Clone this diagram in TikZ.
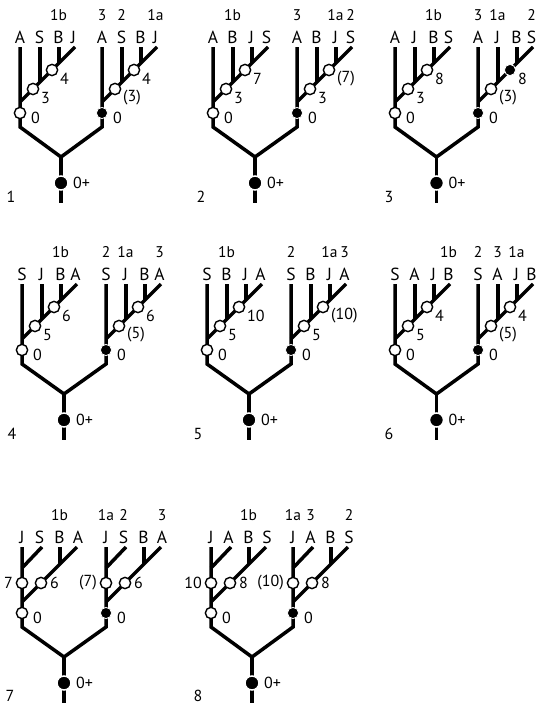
\documentclass[tikz,border=0pt]{standalone}
\usepackage{fontspec}
\setmainfont{PT Sans}
\tikzset{
 x=1pt,y=-1pt,
 br/.style={line width=3.5pt, line join=miter, line cap=butt},
 oc/.style={circle, draw=black, fill=white, line width=1.4pt, minimum size=11.3pt, inner sep=0pt},
 fc/.style={circle, fill=black, draw=white, line width=0.8pt, minimum size=11.2pt, inner sep=0pt},
 rc/.style={circle, fill=black, draw=white, line width=1.5pt, minimum size=14pt, inner sep=0pt},
 ltr/.style={font=\fontsize{17.5}{19}\selectfont, anchor=base, inner sep=0pt},
 tag/.style={font=\fontsize{15.5}{17}\selectfont, anchor=base, inner sep=0pt},
 num/.style={font=\fontsize{16}{18}\selectfont, inner sep=0pt},
}
% subtree type A: one vertical, one long diagonal with two verticals on it
\newcommand\skelA[3]{%
 \coordinate (#1-t1) at (#2,#3);
 \coordinate (#1-t2) at (#2+20,#3);
 \coordinate (#1-t3) at (#2+39,#3);
 \coordinate (#1-t4) at (#2+55,#3);
 \coordinate (#1-d) at (#2,#3+55);
 \coordinate (#1-j2) at (#2+20,#3+35);
 \coordinate (#1-j3) at (#2+39,#3+16);
 \coordinate (#1-s) at (#2,#3+80);
 \coordinate (#1-z) at (#2,#3+66);
 \coordinate (#1-c1) at (#2+13,#3+42);
 \coordinate (#1-c2) at (#2+32,#3+23);
 \coordinate (#1-l1) at (#2,#3-4);
 \coordinate (#1-l2) at (#2+19.5,#3-4);
 \coordinate (#1-l3) at (#2+38.5,#3-4);
 \coordinate (#1-l4) at (#2+53.5,#3-4);
 \coordinate (#1-u1) at (#2,#3-27);
 \coordinate (#1-u2) at (#2+19.5,#3-27);
 \coordinate (#1-u3) at (#2+38.5,#3-27);
 \coordinate (#1-u4) at (#2+53.5,#3-27);
 \draw[br] (#1-d) -- (#1-t4);
 \draw[br] (#1-t2) -- (#1-j2);
 \draw[br] (#1-t3) -- (#1-j3);
}
% subtree type B: short diagonal off the first vertical, long diagonal with one vertical
\newcommand\skelB[3]{%
 \coordinate (#1-t1) at (#2,#3);
 \coordinate (#1-t2) at (#2+20,#3);
 \coordinate (#1-t3) at (#2+38,#3);
 \coordinate (#1-t4) at (#2+55,#3);
 \coordinate (#1-ds) at (#2,#3+21);
 \coordinate (#1-d) at (#2,#3+55);
 \coordinate (#1-j3) at (#2+38,#3+17);
 \coordinate (#1-s) at (#2,#3+80);
 \coordinate (#1-z) at (#2,#3+66);
 \coordinate (#1-c1) at (#2,#3+36);
 \coordinate (#1-c2) at (#2+19,#3+36);
 \coordinate (#1-l1) at (#2,#3-4);
 \coordinate (#1-l2) at (#2+17.5,#3-4);
 \coordinate (#1-l3) at (#2+37.5,#3-4);
 \coordinate (#1-l4) at (#2+56,#3-4);
 \coordinate (#1-u1) at (#2,#3-27);
 \coordinate (#1-u2) at (#2+17.5,#3-27);
 \coordinate (#1-u3) at (#2+37.5,#3-27);
 \coordinate (#1-u4) at (#2+56,#3-27);
 \draw[br] (#1-ds) -- (#1-t2);
 \draw[br] (#1-d) -- (#1-t4);
 \draw[br] (#1-t3) -- (#1-j3);
}
\newcommand\lets[9]{%
 \node[ltr] (#1-L1) at (#1-l1) {#2};
 \node[tag] (#1-T1) at (#1-u1) {#3};
 \node[ltr] (#1-L2) at (#1-l2) {#4};
 \node[tag] (#1-T2) at (#1-u2) {#5};
 \node[ltr] (#1-L3) at (#1-l3) {#6};
 \node[tag] (#1-T3) at (#1-u3) {#7};
 \node[ltr] (#1-L4) at (#1-l4) {#8};
 \node[tag] (#1-T4) at (#1-u4) {#9};
}
% fork: name, left subtree, right subtree, root x, top y
\newcommand\fork[5]{%
 \coordinate (#1-j) at (#4,#5+110);
 \coordinate (#1-e) at (#4,#5+156);
 \coordinate (#1-r) at (#4,#5+136);
 \draw[br] (#2-t1) -- (#2-s) -- (#1-j) -- (#3-s) -- (#3-t1);
 \draw[br] (#1-j) -- (#1-e);
 \node[rc] (#1-rc) at (#1-r) {};
 \node[num, anchor=west, xshift=12pt] (#1-zp) at (#1-rc) {0+};
}
% circles: name, coordinate, style, label
\newcommand\cZ[4]{\node[#3] (#1) at (#2) {};
 \node[num, anchor=west, xshift=11pt, yshift=-5pt] (#1-lab) at (#1) {#4};}
\newcommand\cA[4]{\node[#3] (#1) at (#2) {};
 \node[num, anchor=west, xshift=8pt, yshift=-9pt] (#1-lab) at (#1) {#4};}
\newcommand\cLft[4]{\node[#3] (#1) at (#2) {};
 \node[num, anchor=east, xshift=-9pt] (#1-lab) at (#1) {#4};}
\newcommand\cRgt[4]{\node[#3] (#1) at (#2) {};
 \node[num, anchor=west, xshift=9pt] (#1-lab) at (#1) {#4};}
\begin{document}
\begin{tikzpicture}
\path[fill=white, use as bounding box] (0,0) rectangle (537,704);
% ---------- row 1 ----------
% panel 1
\skelA{p1l}{20}{47}\skelA{p1r}{102}{47}\fork{p1}{p1l}{p1r}{61}{47}
\lets{p1l}{A}{}{S}{}{B}{1b}{J}{}
\lets{p1r}{A}{3}{S}{2}{B}{}{J}{1a}
\cZ{p1l-zc}{p1l-z}{oc}{0}\cA{p1l-k1}{p1l-c1}{oc}{3}\cA{p1l-k2}{p1l-c2}{oc}{4}
\cZ{p1r-zc}{p1r-z}{fc}{0}\cA{p1r-k1}{p1r-c1}{oc}{(3)}\cA{p1r-k2}{p1r-c2}{oc}{4}
\node[num, anchor=base] (p1-n) at (11,202) {1};
% panel 2
\skelA{p2l}{213}{47}\skelA{p2r}{297}{47}\fork{p2}{p2l}{p2r}{255}{47}
\lets{p2l}{A}{}{B}{1b}{J}{}{S}{}
\lets{p2r}{A}{3}{B}{}{J}{1a}{S}{2}
\cZ{p2l-zc}{p2l-z}{oc}{0}\cA{p2l-k1}{p2l-c1}{oc}{3}\cA{p2l-k2}{p2l-c2}{oc}{7}
\cZ{p2r-zc}{p2r-z}{fc}{0}\cA{p2r-k1}{p2r-c1}{oc}{3}\cA{p2r-k2}{p2r-c2}{oc}{(7)}
\node[num, anchor=base] (p2-n) at (201,202) {2};
% panel 3
\skelA{p3l}{395}{47}\skelA{p3r}{478}{47}\fork{p3}{p3l}{p3r}{436.5}{47}
\lets{p3l}{A}{}{J}{}{B}{1b}{S}{}
\lets{p3r}{A}{3}{J}{1a}{B}{}{S}{2}
\cZ{p3l-zc}{p3l-z}{oc}{0}\cA{p3l-k1}{p3l-c1}{oc}{3}\cA{p3l-k2}{p3l-c2}{oc}{8}
\cZ{p3r-zc}{p3r-z}{fc}{0}\cA{p3r-k1}{p3r-c1}{oc}{(3)}\cA{p3r-k2}{p3r-c2}{fc}{8}
\node[num, anchor=base] (p3-n) at (389,202) {3};
% ---------- row 2 ----------
% panel 4
\skelA{p4l}{22}{284}\skelA{p4r}{106}{284}\fork{p4}{p4l}{p4r}{64}{284}
\lets{p4l}{S}{}{J}{}{B}{1b}{A}{}
\lets{p4r}{S}{2}{J}{1a}{B}{}{A}{3}
\cZ{p4l-zc}{p4l-z}{oc}{0}\cA{p4l-k1}{p4l-c1}{oc}{5}\cA{p4l-k2}{p4l-c2}{oc}{6}
\cZ{p4r-zc}{p4r-z}{fc}{0}\cA{p4r-k1}{p4r-c1}{oc}{(5)}\cA{p4r-k2}{p4r-c2}{oc}{6}
\node[num, anchor=base] (p4-n) at (12,439) {4};
% panel 5
\skelA{p5l}{207}{284}\skelA{p5r}{291}{284}\fork{p5}{p5l}{p5r}{249}{284}
\lets{p5l}{S}{}{B}{1b}{J}{}{A}{}
\lets{p5r}{S}{2}{B}{}{J}{1a}{A}{3}
\cZ{p5l-zc}{p5l-z}{oc}{0}\cA{p5l-k1}{p5l-c1}{oc}{5}\cA{p5l-k2}{p5l-c2}{oc}{10}
\cZ{p5r-zc}{p5r-z}{fc}{0}\cA{p5r-k1}{p5r-c1}{oc}{5}\cA{p5r-k2}{p5r-c2}{oc}{(10)}
\node[num, anchor=base] (p5-n) at (198,439) {5};
% panel 6
\skelA{p6l}{395}{284}\skelA{p6r}{478}{284}\fork{p6}{p6l}{p6r}{436.5}{284}
\lets{p6l}{S}{}{A}{}{J}{}{B}{1b}
\lets{p6r}{S}{2}{A}{3}{J}{1a}{B}{}
\cZ{p6l-zc}{p6l-z}{oc}{0}\cA{p6l-k1}{p6l-c1}{oc}{5}\cA{p6l-k2}{p6l-c2}{oc}{4}
\cZ{p6r-zc}{p6r-z}{fc}{0}\cA{p6r-k1}{p6r-c1}{oc}{(5)}\cA{p6r-k2}{p6r-c2}{oc}{4}
\node[num, anchor=base] (p6-n) at (389,439) {6};
% ---------- row 3 ----------
% panel 7
\skelB{p7l}{22}{547}\skelB{p7r}{106}{547}\fork{p7}{p7l}{p7r}{64}{547}
\lets{p7l}{J}{}{S}{}{B}{1b}{A}{}
\lets{p7r}{J}{1a}{S}{2}{B}{}{A}{3}
\cZ{p7l-zc}{p7l-z}{oc}{0}\cLft{p7l-k1}{p7l-c1}{oc}{7}\cRgt{p7l-k2}{p7l-c2}{oc}{6}
\cZ{p7r-zc}{p7r-z}{fc}{0}\cLft{p7r-k1}{p7r-c1}{oc}{(7)}\cRgt{p7r-k2}{p7r-c2}{oc}{6}
\node[num, anchor=base] (p7-n) at (10,701) {7};
% panel 8
\skelB{p8l}{211}{547}\skelB{p8r}{293}{547}\fork{p8}{p8l}{p8r}{252}{547}
\lets{p8l}{J}{}{A}{}{B}{1b}{S}{}
\lets{p8r}{J}{1a}{A}{3}{B}{}{S}{2}
\cZ{p8l-zc}{p8l-z}{oc}{0}\cLft{p8l-k1}{p8l-c1}{oc}{10}\cRgt{p8l-k2}{p8l-c2}{oc}{8}
\cZ{p8r-zc}{p8r-z}{fc}{0}\cLft{p8r-k1}{p8r-c1}{oc}{(10)}\cRgt{p8r-k2}{p8r-c2}{oc}{8}
\node[num, anchor=base] (p8-n) at (198,701) {8};
\end{tikzpicture}
\end{document}
